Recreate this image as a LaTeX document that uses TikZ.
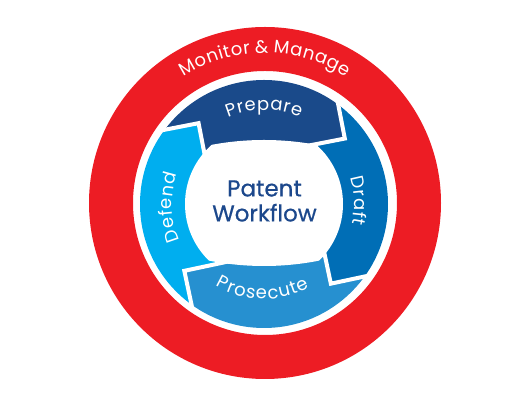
\documentclass[tikz,border=0pt]{standalone}
\usepackage{fontspec}
\setmainfont{Poppins}
\newfontfamily\titlefam[FakeBold=0.6]{Poppins}
\usetikzlibrary{calc,decorations.text}
\definecolor{mred}{RGB}{237,28,36}
\definecolor{cprep}{RGB}{26,74,138}
\definecolor{cdraft}{RGB}{0,110,182}
\definecolor{cpros}{RGB}{38,144,208}
\definecolor{cdef}{RGB}{0,174,239}
\definecolor{ctitle}{RGB}{28,72,140}
\newcommand\lblf{\color{white}\fontsize{18}{18}\selectfont}
\newcommand\monf{\color{white}\fontsize{18}{18}\selectfont}
\newcommand\ka{\kern1.1pt}
\newcommand\kb{\kern0.6pt}
\begin{document}
\begin{tikzpicture}[x=1pt,y=1pt,
  gap/.style={white, line width=4pt, line join=miter, miter limit=6}]
\useasboundingbox (0,0) rectangle (520,414);
\coordinate (R) at (265,211);
\coordinate (B) at (264,210);
% red ring
\fill[mred, even odd rule] (R) circle (176) (R) circle (132);
% chevron geometry
\foreach \i/\t in {1/129,2/39,3/-50,4/-140}{
  \coordinate (A\i) at ($(B)+(\t:104)$);
  \coordinate (O\i) at ($(A\i)+(\t+62:50)$);
  \coordinate (I\i) at ($(A\i)+(\t+152:50)$);
}
% coloured bands
\begin{scope}
\clip (B) circle (124);
\fill[cprep] (I1)--(A1)--(O1)--($(B)+(129:175)$)--($(B)+(84:175)$)--($(B)+(39:175)$)--(O2)--(A2)--(I2)--(B)--cycle;
\fill[cdraft] (I2)--(A2)--(O2)--($(B)+(39:175)$)--($(B)+(-5.5:175)$)--($(B)+(-50:175)$)--(O3)--(A3)--(I3)--(B)--cycle;
\fill[cpros] (I3)--(A3)--(O3)--($(B)+(-50:175)$)--($(B)+(-95:175)$)--($(B)+(-140:175)$)--(O4)--(A4)--(I4)--(B)--cycle;
\fill[cdef] (I4)--(A4)--(O4)--($(B)+(-140:175)$)--($(B)+(-185.5:175)$)--($(B)+(-231:175)$)--(O1)--(A1)--(I1)--(B)--cycle;
\end{scope}
% white centre
\begin{scope}
\clip ($(B)+(0,-219)$) circle (283);
\clip ($(B)+(0,221)$) circle (283);
\fill[white] (B) circle (79);
\end{scope}
% white chevron gaps
\begin{scope}
\clip (B) circle (128);
\foreach \i in {1,...,4} \draw[gap] (I\i)--(A\i)--(O\i);
\end{scope}
% labels along arcs
\path[decorate, decoration={text along path, text align=center,
  text={|\lblf|P{\kb}r{\kb}e{\kb}p{\kb}a{\kb}r{\kb}e}}]
  ($(B)+(140:94)$) arc[start angle=140, end angle=40, radius=94];
\path[decorate, decoration={text along path, text align=center,
  text={|\lblf|D{\kb}r{\kb}a{\kb}f{\kb}t}}]
  ($(B)+(40:90)$) arc[start angle=40, end angle=-36, radius=90];
\path[decorate, decoration={text along path, text align=center,
  text={|\lblf|P{\ka}r{\ka}o{\ka}s{\ka}e{\ka}c{\ka}u{\ka}t{\ka}e}}]
  ($(B)+(-150:95)$) arc[start angle=-150, end angle=-32, radius=95];
\path[decorate, decoration={text along path, text align=center,
  text={|\lblf|D{\kb}e{\kb}f{\kb}e{\kb}n{\kb}d}}]
  ($(B)+(222:92)$) arc[start angle=222, end angle=142, radius=92];
\path[decorate, decoration={text along path, text align=center,
  text={|\monf|M{\kb}o{\kb}n{\kb}i{\kb}t{\kb}o{\kb}r {\&} M{\kb}a{\kb}n{\kb}a{\kb}g{\kb}e}}]
  ($(R)+(155:150)$) arc[start angle=155, end angle=25, radius=150];
% title
\node[font=\titlefam\fontsize{23}{25}\selectfont, text=ctitle, align=center, inner sep=0pt] (title) at (264.5,213) {Patent\\Workflow};
\end{tikzpicture}
\end{document}
